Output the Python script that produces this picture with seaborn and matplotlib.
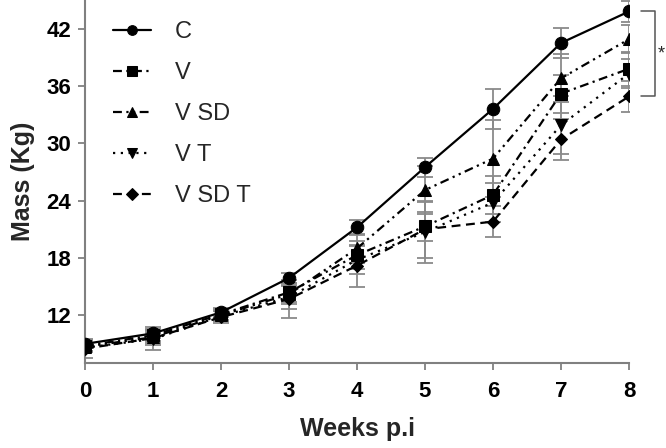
import numpy as np
import pandas as pd
import matplotlib
matplotlib.use("Agg")
import matplotlib.pyplot as plt
import seaborn as sns

weeks = [0, 1, 2, 3, 4, 5, 6, 7, 8]
groups = ["C", "V", "V SD", "V T", "V SD T"]

mass_C = [9.0, 10.1, 12.3, 15.9, 21.2, 27.5, 33.6, 40.5, 43.8]
sd_C = [0.4, 0.5, 0.5, 0.5, 0.8, 1.0, 2.1, 1.6, 1.1]
mass_V = [8.8, 9.9, 12.1, 14.4, 18.3, 21.3, 24.6, 35.2, 37.8]
sd_V = [0.5, 0.6, 0.6, 1.0, 1.5, 1.5, 2.0, 2.0, 1.8]
mass_VSD = [8.7, 9.7, 12.0, 14.2, 19.0, 25.1, 28.4, 36.8, 40.9]
sd_VSD = [0.4, 0.6, 0.6, 1.0, 1.5, 2.5, 4.0, 2.5, 1.5]
mass_VT = [8.6, 9.5, 11.9, 13.9, 17.8, 20.7, 23.8, 31.9, 37.3]
sd_VT = [0.5, 0.6, 0.5, 1.2, 1.5, 3.2, 2.0, 3.0, 1.5]
mass_VSDT = [8.5, 9.6, 11.8, 13.7, 17.2, 21.0, 21.8, 30.4, 34.9]
sd_VSDT = [1.0, 1.2, 0.6, 2.0, 2.2, 3.0, 1.6, 2.1, 1.6]

y_ticks = [12, 18, 24, 30, 36, 42]

means = [mass_C, mass_V, mass_VSD, mass_VT, mass_VSDT]
sds = [sd_C, sd_V, sd_VSD, sd_VT, sd_VSDT]

df = pd.DataFrame({
    "week": np.tile(weeks, len(groups)),
    "mass": np.concatenate(means),
    "sd": np.concatenate(sds),
    "group": np.repeat(groups, len(weeks)),
})

sns.set_style("ticks")
plt.rcParams["font.family"] = ["Liberation Sans", "DejaVu Sans"]

fig = plt.figure(figsize=(6.66, 4.48), dpi=100)
ax = fig.add_axes([85 / 666, 85 / 448, 544 / 666, 363 / 448])

# error bars
for g in groups:
    sub = df[df.group == g]
    ax.errorbar(sub.week, sub.mass, yerr=sub.sd, fmt="none", ecolor="#8a8a8a",
                elinewidth=1.3, capsize=6, capthick=1.3, zorder=1)

markers = {"C": "o", "V": "s", "V SD": "^", "V T": "v", "V SD T": "D"}
dashes = {"C": "", "V": (4, 2, 1, 2), "V SD": (4, 2, 1, 2, 1, 2),
          "V T": (1, 2.5), "V SD T": (4, 2.5)}

sns.lineplot(data=df, x="week", y="mass", style="group", style_order=groups,
             markers=markers, dashes=dashes, color="black", linewidth=1.6,
             markersize=9, markeredgecolor="black", ax=ax, zorder=3)

for ln in ax.lines:
    if ln.get_marker() == "D":
        ln.set_markersize(6.5)

handles, labels = ax.get_legend_handles_labels()
for h in handles:
    h.set_markersize(6 if h.get_marker() == "D" else 7)
ax.legend(handles, labels, loc="upper left", bbox_to_anchor=(0.013, 1.0),
          frameon=False, fontsize=17, handlelength=1.6, handletextpad=1.0,
          labelspacing=0.8)

ax.set_xlim(0, 8)
ax.set_ylim(7, 45)
ax.set_xticks(weeks)
ax.set_yticks(y_ticks)
ax.tick_params(axis="both", labelsize=16, colors="#808080", length=5, width=1.3,
               labelcolor="black")
ax.tick_params(axis="x", pad=8)
ax.tick_params(axis="y", pad=5)
for lab in ax.get_xticklabels() + ax.get_yticklabels():
    lab.set_fontweight("bold")
for s in ["left", "bottom"]:
    ax.spines[s].set_color("#808080")
    ax.spines[s].set_linewidth(1.5)
sns.despine(ax=ax)

ax.set_xlabel("Weeks p.i", fontsize=18, fontweight="bold", labelpad=11)
ax.set_ylabel("Mass (Kg)", fontsize=18, fontweight="bold", labelpad=8)

# significance bracket
ax.plot([8.18, 8.38, 8.38, 8.18], [43.8, 43.8, 35.0, 35.0], color="#555555",
        lw=1.1, clip_on=False)
ax.text(8.42, 39.4, "*", fontsize=13, ha="left", va="center", clip_on=False)

fig.savefig("out.png", dpi=100)
